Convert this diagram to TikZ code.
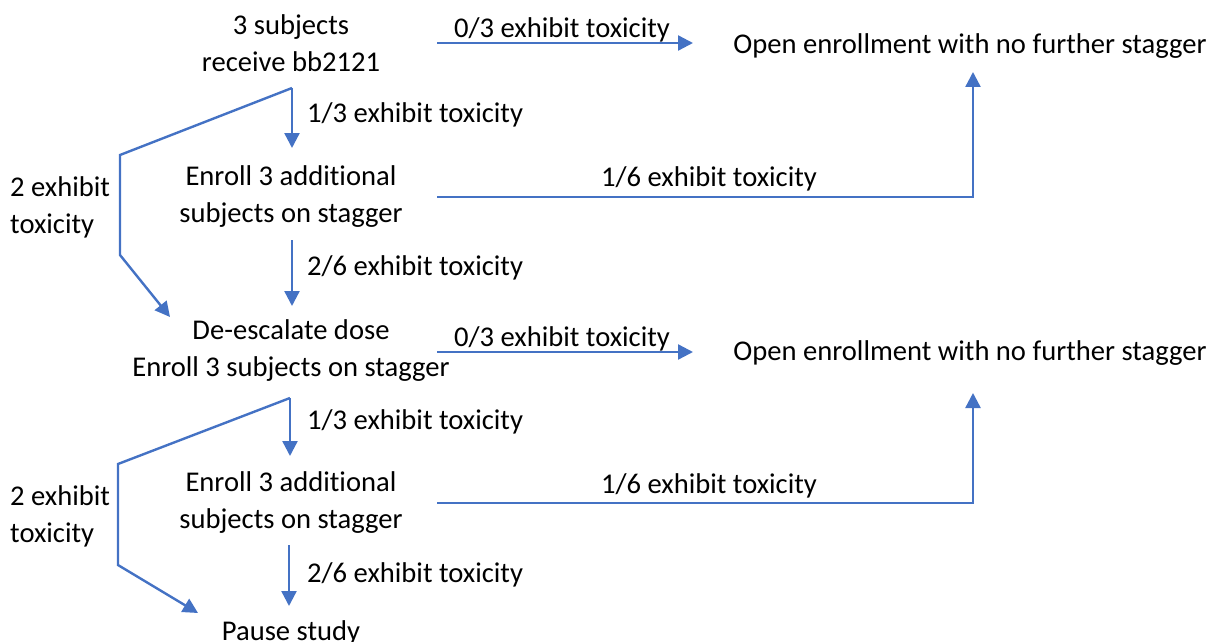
\documentclass[tikz,border=0pt]{standalone}
\usepackage{fontspec}
\setmainfont{Carlito}[Ligatures={NoCommon}]
\usetikzlibrary{arrows.meta}
\definecolor{arrowblue}{HTML}{4472C4}
\begin{document}
\begin{tikzpicture}[x=1pt,y=-1pt,
  txt/.style={font=\fontsize{28.6}{37}\selectfont, align=center, inner sep=0pt, text=black},
  lbl/.style={font=\fontsize{28.6}{37}\selectfont, align=left, inner sep=0pt, text=black},
  conn/.style={draw=arrowblue, line width=2.4pt, -{Triangle[length=15pt,width=15pt]}}]
\useasboundingbox (0,0) rectangle (1211,642);

% nodes
\node[txt] (s1) at (291,43) {3 subjects\\receive bb2121};
\node[txt] (o1) at (970,46) {Open enrollment with no further stagger};
\node[txt] (e1) at (291,197) {Enroll 3 additional\\subjects on stagger};
\node[txt] (d1) at (291,351) {De-escalate dose\\Enroll 3 subjects on stagger};
\node[txt] (o2) at (970,353) {Open enrollment with no further stagger};
\node[txt] (e2) at (291,503) {Enroll 3 additional\\subjects on stagger};
\node[txt] (p1) at (291,633) {Pause study};

% labels
\node[txt] (l03a) at (562,30) {0/3 exhibit toxicity};
\node[lbl, anchor=west] (l13a) at (307,115) {1/3 exhibit toxicity};
\node[lbl, anchor=west] (l2a) at (10,207) {2 exhibit\\toxicity};
\node[txt] (l16a) at (709,179) {1/6 exhibit toxicity};
\node[lbl, anchor=west] (l26a) at (307,268) {2/6 exhibit toxicity};
\node[txt] (l03b) at (562,339) {0/3 exhibit toxicity};
\node[lbl, anchor=west] (l13b) at (307,422) {1/3 exhibit toxicity};
\node[lbl, anchor=west] (l2b) at (10,516) {2 exhibit\\toxicity};
\node[txt] (l16b) at (709,486) {1/6 exhibit toxicity};
\node[lbl, anchor=west] (l26b) at (307,575) {2/6 exhibit toxicity};

% connector points
\coordinate (a1s) at (437,43);  \coordinate (a1e) at (693,43);
\coordinate (v1s) at (292,88);  \coordinate (v1e) at (292,148);
\coordinate (k1a) at (120,155); \coordinate (k1b) at (120,255); \coordinate (k1e) at (170,317);
\coordinate (h1s) at (437,197); \coordinate (h1c) at (973,197); \coordinate (h1e) at (973,72);
\coordinate (v2s) at (292,240); \coordinate (v2e) at (292,306);
\coordinate (a2s) at (437,352); \coordinate (a2e) at (693,352);
\coordinate (v3s) at (290,398); \coordinate (v3e) at (290,456);
\coordinate (k2a) at (118,464); \coordinate (k2b) at (118,565); \coordinate (k2e) at (198,613);
\coordinate (h2s) at (437,503); \coordinate (h2c) at (973,503); \coordinate (h2e) at (973,393);
\coordinate (v4s) at (289,545); \coordinate (v4e) at (289,606);

% connectors
\draw[conn] (a1s) -- (a1e);
\draw[conn] (v1s) -- (v1e);
\draw[conn] (v1s) -- (k1a) -- (k1b) -- (k1e);
\draw[conn] (h1s) -- (h1c) -- (h1e);
\draw[conn] (v2s) -- (v2e);
\draw[conn] (a2s) -- (a2e);
\draw[conn] (v3s) -- (v3e);
\draw[conn] (v3s) -- (k2a) -- (k2b) -- (k2e);
\draw[conn] (h2s) -- (h2c) -- (h2e);
\draw[conn] (v4s) -- (v4e);
\end{tikzpicture}
\end{document}
